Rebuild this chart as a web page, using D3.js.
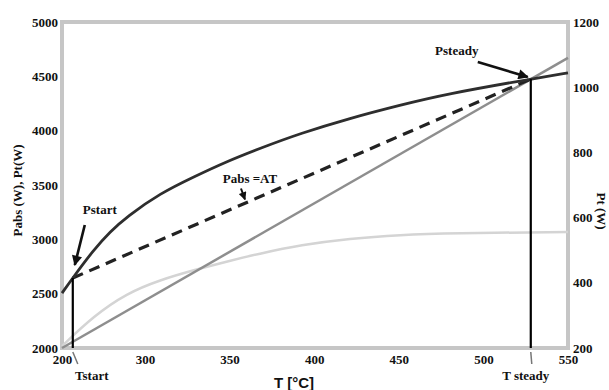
<!DOCTYPE html>
<html>
<head>
<meta charset="utf-8">
<script src="https://cdn.jsdelivr.net/npm/d3@7"></script>
<style>
  body { margin: 0; background: #fff; }
  svg { display: block; }
  text { font-family: 'Liberation Serif', 'Times New Roman', serif; font-weight: bold; fill: #111; }
</style>
</head>
<body>
<div id="chart"></div>
<script>
// temperature axis ticks (the 200-300 interval is drawn shorter, as in the picture)
const tempTicks = [200, 300, 350, 400, 450, 500, 550]
const pTicks = [2000, 2500, 3000, 3500, 4000, 4500, 5000]
const ptTicks = [200, 400, 600, 800, 1000, 1200]

// absorbed power curve, left axis
const pabsT = [200, 214, 238, 258, 278, 309, 329, 348, 368, 392, 421, 451, 478, 528, 550]
const pabsW = [2505, 2656, 2902, 3070, 3208, 3424, 3576, 3714, 3838, 3976, 4114, 4236, 4337, 4475, 4531]

// Pt curve, right axis
const ptT = [200, 238, 278, 309, 329, 348, 368, 392, 421, 451, 480, 550]
const ptW = [206, 298, 368, 409, 439, 465, 490, 516, 536, 547, 552, 556]

// straight grey line, left axis
const lineT = [200, 550]
const lineW = [2000, 4670]

// start / steady points
const tStart = 213
const pStart = 2644
const tSteady = 528
const pSteady = 4475

const margin = { top: 22, left: 62, right: 41, bottom: 42 }
const width = 609 - margin.left - margin.right
const height = 390 - margin.top - margin.bottom

const svg = d3
  .select('#chart')
  .append('svg')
  .attr('width', 609)
  .attr('height', 390)
  .append('g')
  .attr('transform', `translate(${margin.left},${margin.top})`)

const x = d3.scaleLinear().domain([200, 300, 550]).range([0, 83, width])
const y = d3.scaleLinear().domain([2000, 5000]).range([height, 0])
const y2 = d3.scaleLinear().domain([200, 1200]).range([height, 0])

const defs = svg.append('defs')
defs
  .append('marker')
  .attr('id', 'head')
  .attr('viewBox', '0 0 10 10')
  .attr('refX', 9)
  .attr('refY', 5)
  .attr('markerWidth', 5)
  .attr('markerHeight', 4)
  .attr('markerUnits', 'strokeWidth')
  .attr('orient', 'auto')
  .append('path')
  .attr('d', 'M0,0L10,5L0,10z')
  .attr('fill', '#111')

// axes
const fontSize = 13
const fmt = d3.format('d')

const bottomAxis = d3.axisBottom(x).tickValues(tempTicks).tickFormat(fmt).tickSize(0).tickPadding(7)
svg
  .append('g')
  .attr('transform', `translate(0,${height})`)
  .call(bottomAxis)
  .call(g => g.select('.domain').remove())
  .selectAll('text')
  .style('font-size', fontSize)
  .attr('fill', '#111')

const leftAxis = d3.axisLeft(y).tickValues(pTicks).tickFormat(fmt).tickSize(0).tickPadding(4)
svg
  .append('g')
  .call(leftAxis)
  .call(g => g.select('.domain').remove())
  .selectAll('text')
  .style('font-size', fontSize)
  .attr('fill', '#111')

const rightAxis = d3.axisRight(y2).tickValues(ptTicks).tickFormat(fmt).tickSize(0).tickPadding(5)
svg
  .append('g')
  .attr('transform', `translate(${width},0)`)
  .call(rightAxis)
  .call(g => g.select('.domain').remove())
  .selectAll('text')
  .style('font-size', fontSize)
  .attr('fill', '#111')

// frame
svg
  .append('rect')
  .attr('x', 0)
  .attr('y', 0)
  .attr('width', width)
  .attr('height', height)
  .attr('fill', 'none')
  .attr('stroke', '#c6c6c6')
  .attr('stroke-width', 4)

const lineLeft = d3.line().x(d => x(d[0])).y(d => y(d[1]))
const lineRight = d3.line().x(d => x(d[0])).y(d => y2(d[1]))

// Pt curve
svg
  .append('path')
  .datum(ptT.map((t, i) => [t, ptW[i]]))
  .attr('d', lineRight.curve(d3.curveBasis))
  .attr('fill', 'none')
  .attr('stroke', '#d4d4d4')
  .attr('stroke-width', 2.5)

// grey straight line
svg
  .append('path')
  .datum(lineT.map((t, i) => [t, lineW[i]]))
  .attr('d', lineLeft)
  .attr('fill', 'none')
  .attr('stroke', '#8e8e8e')
  .attr('stroke-width', 2.5)

// Pabs = AT dashed line
svg
  .append('path')
  .datum([[tStart, pStart], [tSteady, pSteady]])
  .attr('d', lineLeft)
  .attr('fill', 'none')
  .attr('stroke', '#222')
  .attr('stroke-width', 3.2)
  .attr('stroke-dasharray', '11,7')

// absorbed power curve
svg
  .append('path')
  .datum(pabsT.map((t, i) => [t, pabsW[i]]))
  .attr('d', d3.line().x(d => x(d[0])).y(d => y(d[1])).curve(d3.curveBasis))
  .attr('fill', 'none')
  .attr('stroke', '#2e2e2e')
  .attr('stroke-width', 2.8)

// vertical markers
svg
  .selectAll('.vline')
  .data([[tStart, pStart], [tSteady, pSteady]])
  .enter()
  .append('line')
  .attr('class', 'vline')
  .attr('x1', d => x(d[0]))
  .attr('x2', d => x(d[0]))
  .attr('y1', d => y(d[1]))
  .attr('y2', height)
  .attr('stroke', '#000')
  .attr('stroke-width', 2.2)

// annotations, offsets from their data point
const notes = [
  { text: 'Pstart', t: tStart, p: pStart, tx: 27, ty: -64, a: [12, -53, 2, -13], w: 2.6 },
  { text: 'Psteady', t: tSteady, p: pSteady, tx: -74, ty: -24, a: [-53, -17, -3, -2], w: 2.6 },
  { text: 'Pabs =AT', t: 358.5, p: 3330, tx: 6, ty: -20, a: [-3, -15, 1, -4], w: 2 }
]

notes.forEach(n => {
  const px = x(n.t)
  const py = y(n.p)
  svg
    .append('text')
    .attr('x', px + n.tx)
    .attr('y', py + n.ty)
    .attr('text-anchor', 'middle')
    .style('font-size', fontSize)
    .text(n.text)
  svg
    .append('line')
    .attr('x1', px + n.a[0])
    .attr('y1', py + n.a[1])
    .attr('x2', px + n.a[2])
    .attr('y2', py + n.a[3])
    .attr('stroke', '#111')
    .attr('stroke-width', n.w)
    .attr('marker-end', 'url(#head)')
})

// T start / T steady labels under the axis
const tLabels = [
  { text: 'Tstart', t: tStart, dx: 19, lx: 5 },
  { text: 'T steady', t: tSteady, dx: -5, lx: 1 }
]
tLabels.forEach(d => {
  svg
    .append('line')
    .attr('x1', x(d.t))
    .attr('y1', height + 4)
    .attr('x2', x(d.t) + d.lx)
    .attr('y2', height + 16)
    .attr('stroke', '#777')
    .attr('stroke-width', 1.5)
  svg
    .append('text')
    .attr('x', x(d.t) + d.dx)
    .attr('y', height + 32)
    .attr('text-anchor', 'middle')
    .style('font-size', fontSize)
    .text(d.text)
})

// axis titles
svg
  .append('text')
  .attr('x', 232)
  .attr('y', height + 40)
  .attr('text-anchor', 'middle')
  .style('font-family', "'Liberation Sans', Arial, sans-serif")
  .style('font-size', 15)
  .text('T [°C]')

svg
  .append('text')
  .attr('transform', `translate(-40,${y(3450)}) rotate(-90)`)
  .attr('text-anchor', 'middle')
  .style('font-size', fontSize)
  .text('Pabs (W), Pt(W)')

svg
  .append('text')
  .attr('transform', `translate(${width + 29},${y2(620)}) rotate(90)`)
  .attr('text-anchor', 'middle')
  .style('font-size', fontSize)
  .text('Pt (W)')
</script>
</body>
</html>
